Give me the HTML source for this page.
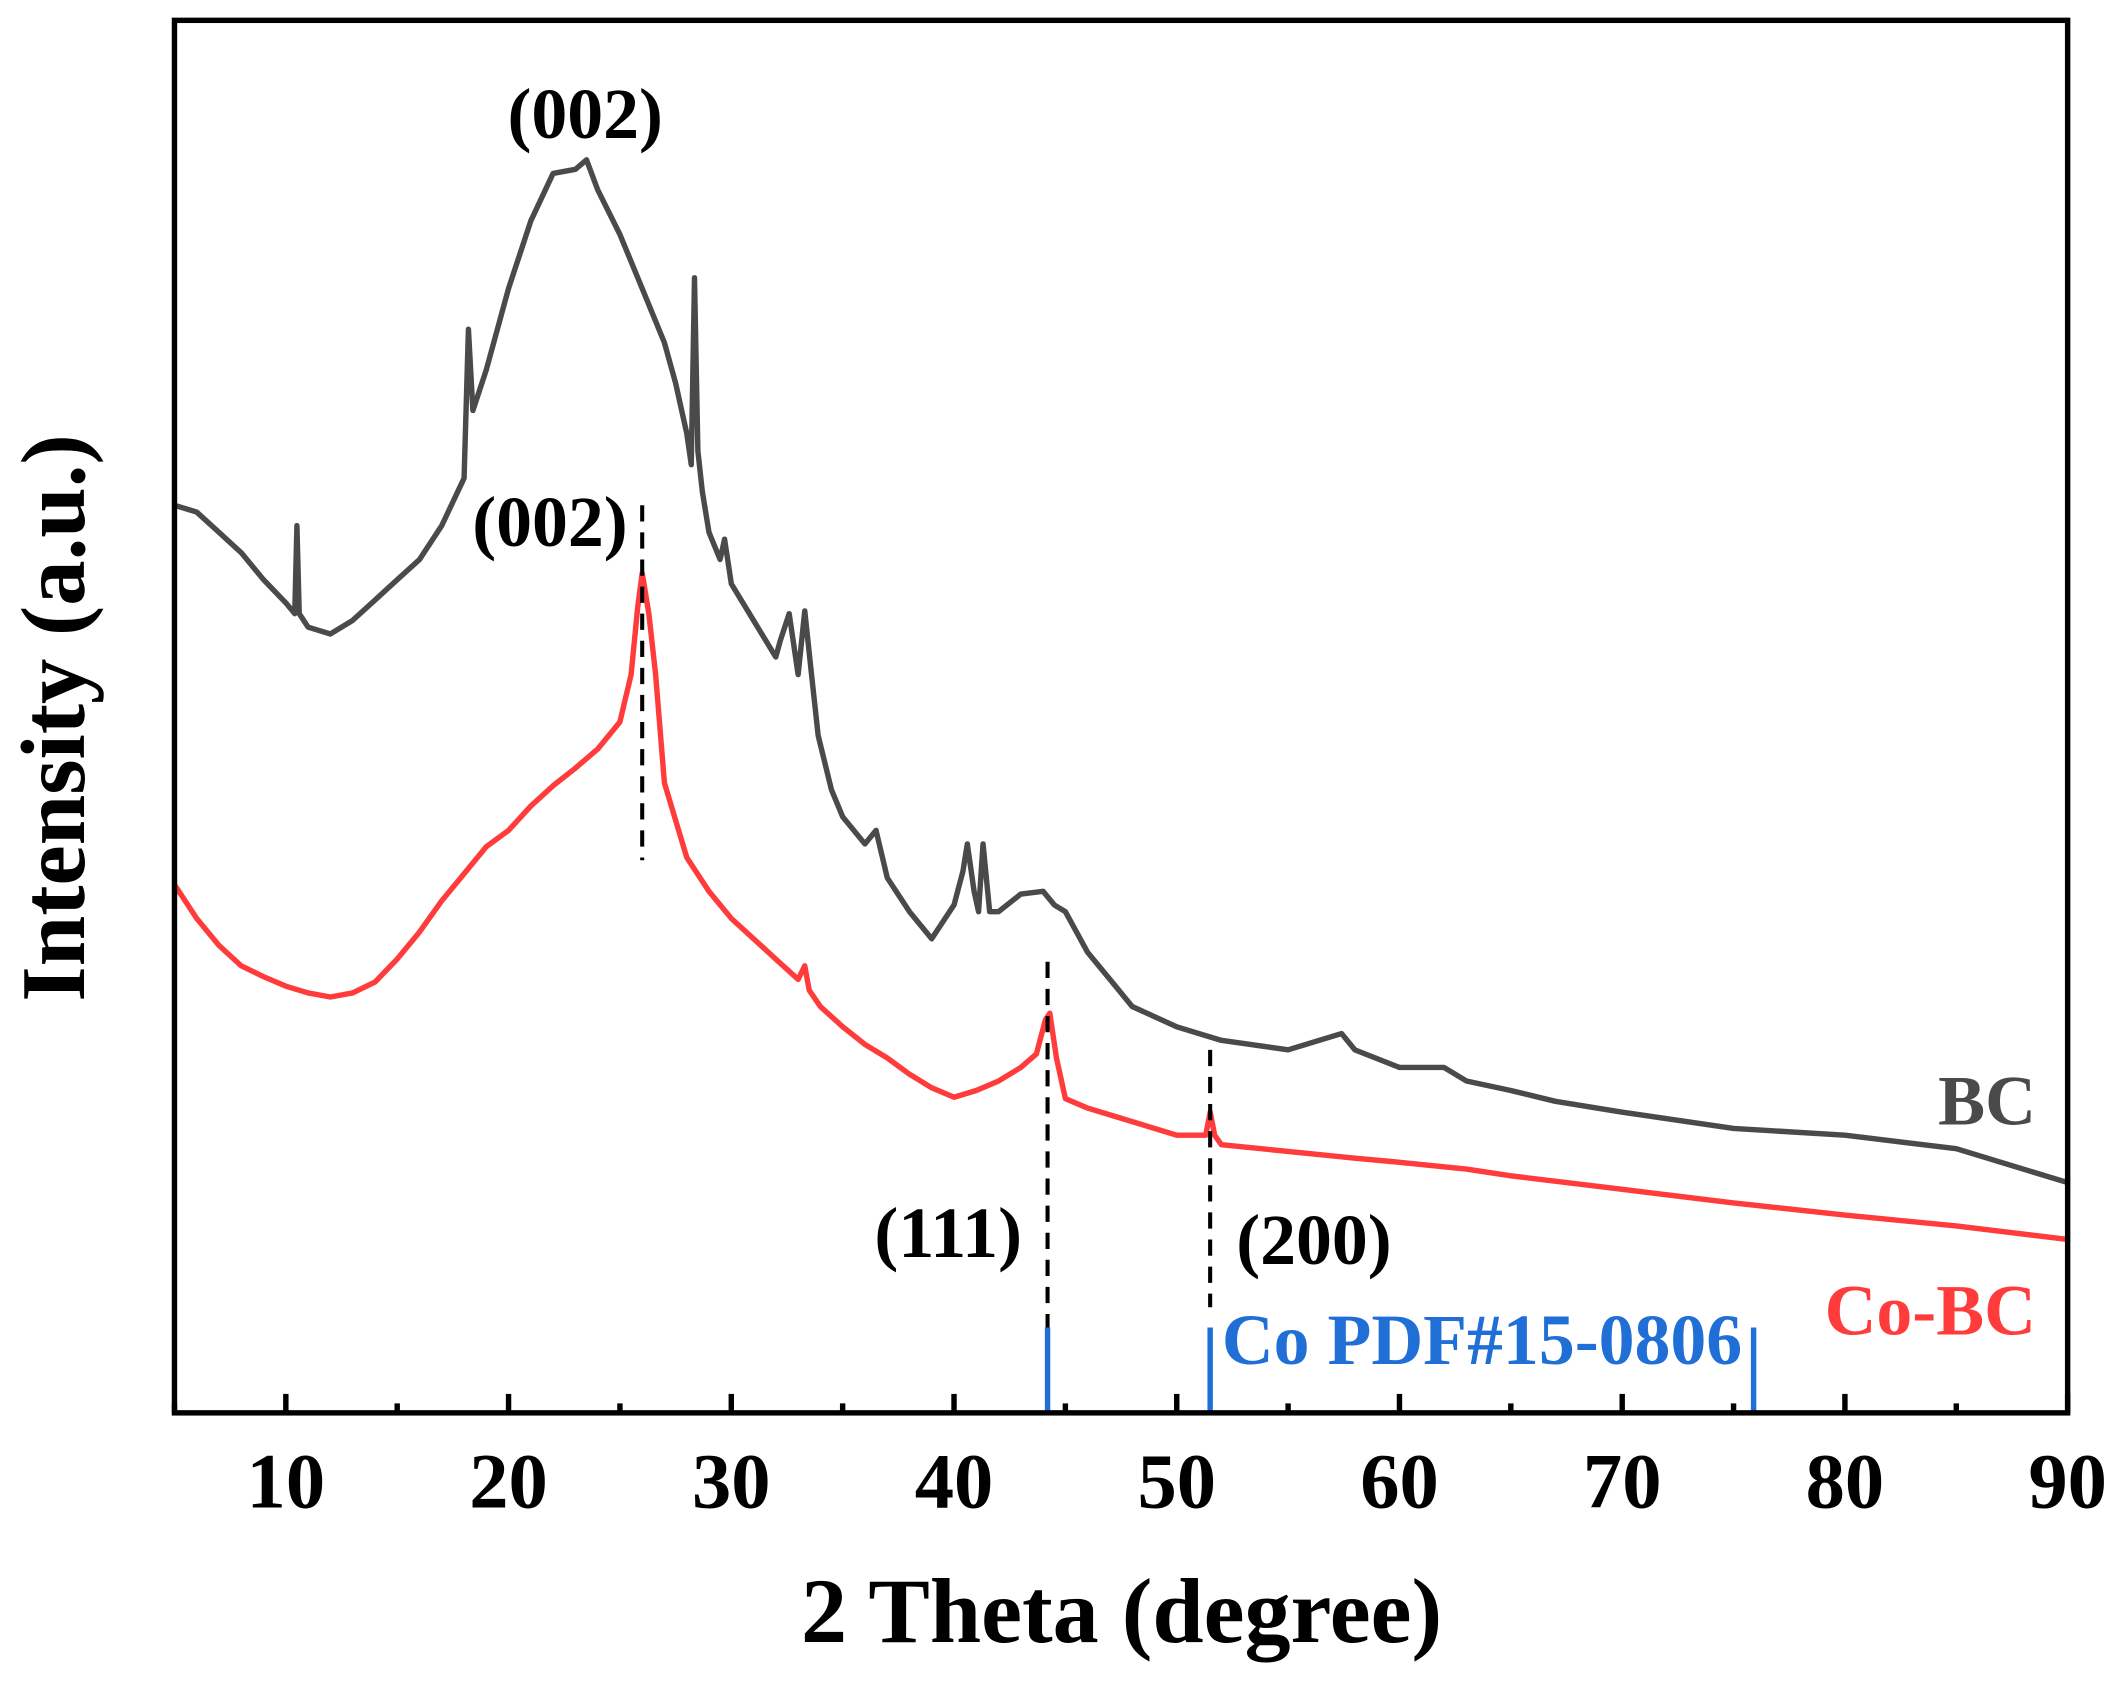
<!DOCTYPE html>
<html><head><meta charset="utf-8"><style>
html,body{margin:0;padding:0;background:#fff}
svg{display:block}
text{font-family:"Liberation Serif",serif;font-weight:bold}
</style></head><body>
<svg id="chart" width="2124" height="1696" viewBox="0 0 1568 1252" xmlns="http://www.w3.org/2000/svg">
<g id="plot"></g>
<rect x="128.8" y="15" width="1397.6" height="1028" fill="none" stroke="#000" stroke-width="4"/>
<text x="828" y="1212" font-size="68" text-anchor="middle">2 Theta (degree)</text>
<text transform="translate(62,530) rotate(-90)" font-size="67" text-anchor="middle">Intensity (a.u.)</text>
<text x="1503" y="830" font-size="52" fill="#4a4a4a" text-anchor="end">BC</text>
<text x="1503" y="985" font-size="53" fill="#ff3b3b" text-anchor="end">Co-BC</text>
<text x="432" y="102" font-size="53" text-anchor="middle">(002)</text>
<text x="406" y="403" font-size="53" text-anchor="middle">(002)</text>
<text x="700" y="928" font-size="53" text-anchor="middle">(111)</text>
<text x="970" y="933" font-size="53" text-anchor="middle">(200)</text>
<text x="902" y="1007" font-size="53" fill="#1f6fd6">Co PDF#15-0806</text>
<script>
const xTicks=[10,20,30,40,50,60,70,80,90];
const xMinor=[5,15,25,35,45,55,65,75,85];
const bcX=[5,6,7,8,9,10,10.4,10.5,10.6,11,12,13,14,15,16,17,18,18.1,18.2,18.4,19,20,21,22,23,23.5,24,25,26,27,27.5,28,28.2,28.35,28.5,28.7,29,29.5,29.7,30,31,32,32.2,32.6,33,33.3,33.6,33.9,34.5,35,36,36.5,37,38,39,40,40.4,40.6,40.9,41.1,41.3,41.6,42,43,44,44.5,45,46,47,48,50,52,55,57.4,58,60,62,63,65,67,70,75,80,85,90];
const bcY=[670,665,650,635,615,598,590,655,590,580,575,585,600,615,630,655,690,745,800,740,770,830,880,915,918,925,903,870,830,790,760,723,700,838,710,680,650,630,645,612,585,558,570,590,545,592,545,500,460,440,420,430,395,370,350,375,400,420,385,370,420,370,370,383,385,375,370,340,320,300,285,275,268,280,268,255,255,245,238,230,222,210,205,195,170];
const coX=[5,6,7,8,9,10,11,12,13,14,15,16,17,18,19,20,21,22,23,24,25,25.5,25.8,26,26.3,26.6,27,28,29,30,31,32,33,33.3,33.5,34,35,36,37,38,39,40,41,42,43,43.7,44.1,44.3,44.6,45,46,47,48,50,51.3,51.5,51.7,52,55,58,60,63,65,70,75,80,85,90];
const coY=[390,365,345,330,322,315,310,307,310,318,335,355,378,398,418,430,448,463,476,490,510,545,595,620,590,545,465,410,385,365,350,335,320,330,312,300,285,272,262,250,240,233,238,245,255,265,290,295,262,232,225,220,215,205,205,222,205,198,193,188,185,180,175,165,155,146,138,128];
const refPeaks=[44.2,51.5,75.9];
const dashPeaks=[26.0,44.2,51.5];
const dashTop=[670,333,268];
const dashBottom=[408,3,78];

const X0=5,X1=90,PL=128.8,PR=1526.4,PT=15,PB=1043;
const sx=v=>PL+(v-X0)/(X1-X0)*(PR-PL);
const sy=v=>PB-v*(PB-PT)/1028;
const NS='http://www.w3.org/2000/svg';
const plot=document.getElementById('plot');
const svg=document.getElementById('chart');
function mk(tag,attrs,parent){const e=document.createElementNS(NS,tag);for(const k in attrs)e.setAttribute(k,attrs[k]);(parent||plot).appendChild(e);return e;}
function line(xs,ys,color,name){
  let d='';xs.forEach((x,i)=>{d+=(i?'L':'M')+sx(x).toFixed(1)+' '+sy(ys[i]).toFixed(1);});
  const p=mk('path',{d:d,fill:'none',stroke:color,'stroke-width':4,'stroke-linejoin':'round'});
  
  
}
line(bcX,bcY,'#4a4a4a','bc-series-line');
line(coX,coY,'#ff3b3b','cobc-series-line');
dashPeaks.forEach((p,i)=>{
  const l=mk('line',{x1:sx(p),x2:sx(p),y1:sy(dashTop[i]),y2:sy(dashBottom[i]),stroke:'#000','stroke-width':3,'stroke-dasharray':'12,8'});
  
  
});
refPeaks.forEach(p=>{
  const l=mk('line',{x1:sx(p),x2:sx(p),y1:980,y2:PB,stroke:'#1f6fd6','stroke-width':4});
  
  
});
xTicks.forEach(t=>{
  const l=mk('line',{x1:sx(t),x2:sx(t),y1:PB,y2:PB-14,stroke:'#000','stroke-width':4},svg);
  
  
  const tx=mk('text',{x:sx(t),y:1113,'font-size':58,'text-anchor':'middle'},svg);
  tx.textContent=t;
  
  
});
xMinor.forEach(t=>{
  const l=mk('line',{x1:sx(t),x2:sx(t),y1:PB,y2:PB-7,stroke:'#000','stroke-width':4},svg);
  
  
});
</script>
</svg>
</body></html>
